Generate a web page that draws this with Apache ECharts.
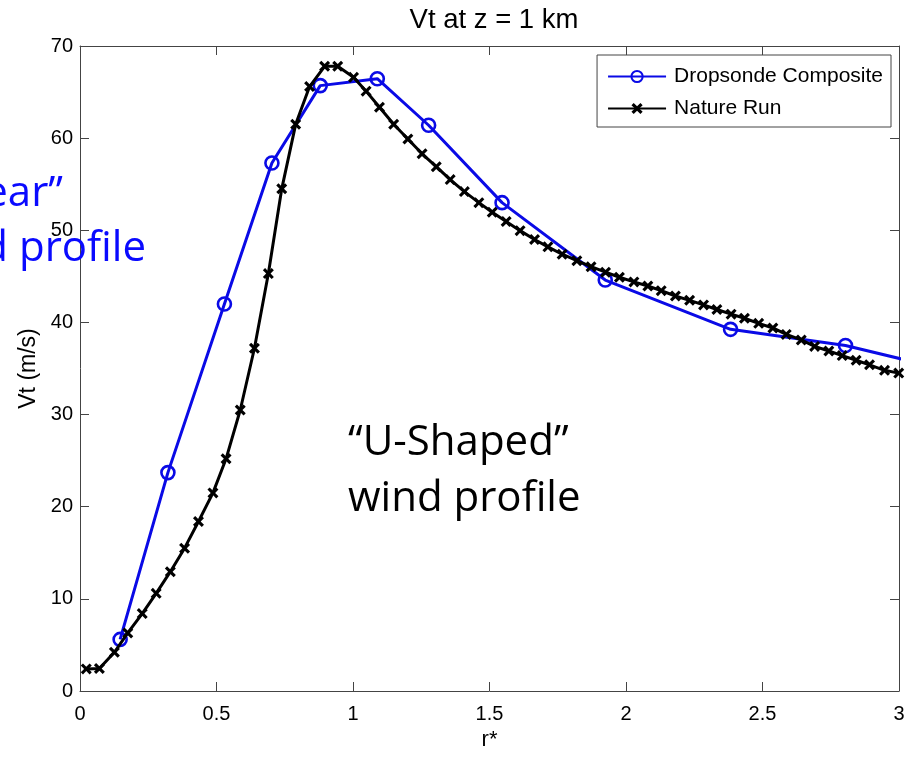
<!DOCTYPE html>
<html>
<head>
<meta charset="utf-8">
<script src="https://cdn.jsdelivr.net/npm/echarts@6/dist/echarts.min.js"></script>
<style>
  html, body { margin: 0; padding: 0; background: #ffffff; }
  #chart { width: 913px; height: 764px; }
</style>
</head>
<body>
<div id="chart"></div>
<script>
// Tangential wind Vt (m/s) at z = 1 km against normalised radius r*
const dropR  = [0.147, 0.322, 0.529, 0.703, 0.880, 1.089, 1.277, 1.546, 1.924, 2.383, 2.804, 3.25];
const dropVt = [5.6,   23.7,  42.0,  57.3,  65.7,  66.45, 61.4,  53.0,  44.6,  39.25, 37.5,  34.3];

const natureR = [
  0.023, 0.071, 0.126, 0.175, 0.228, 0.279, 0.331, 0.383, 0.434, 0.487,
  0.535, 0.587, 0.639, 0.690, 0.739, 0.790, 0.841, 0.896, 0.944, 1.002,
  1.048, 1.097, 1.149, 1.201, 1.253, 1.305, 1.356, 1.408, 1.461, 1.510,
  1.561, 1.612, 1.665, 1.714, 1.766, 1.820, 1.872, 1.925, 1.976, 2.029,
  2.080, 2.129, 2.181, 2.233, 2.284, 2.333, 2.385, 2.434, 2.486, 2.538,
  2.587, 2.642, 2.691, 2.743, 2.792, 2.843, 2.892, 2.947, 2.999
];
const natureVt = [
  2.4,  2.45, 4.2,  6.3,  8.4,  10.6, 12.95, 15.5, 18.4, 21.5,
  25.2, 30.5, 37.2, 45.3, 54.5, 61.5, 65.6,  67.8, 67.8, 66.6,
  65.1, 63.35, 61.5, 59.9, 58.3, 56.9, 55.5, 54.2, 53.0, 51.95,
  50.95, 49.96, 49.0, 48.2, 47.4, 46.7, 46.05, 45.45, 44.9, 44.4,
  43.95, 43.45, 42.87, 42.4, 41.9, 41.4, 40.9, 40.45, 39.9, 39.4,
  38.7, 38.1, 37.4, 36.9, 36.4, 35.9, 35.4, 34.8, 34.5
];

const xTicks = [0, 0.5, 1, 1.5, 2, 2.5, 3];
const yTicks = [0, 10, 20, 30, 40, 50, 60, 70];

const seriesNames = ['Dropsonde Composite', 'Nature Run'];
const titleText = 'Vt at z = 1 km';
const xName = 'r*';
const yName = 'Vt (m/s)';

const pairs = (xs, ys) => xs.map((x, i) => [x, ys[i]]);

const axisColor = '#444444';
const blue = '#0a0ae6';
const mono = "'Liberation Sans', Arial, Helvetica, sans-serif";
const notes = "'Open Sans', 'Noto Sans', sans-serif";
// bold "x" marker outline
const crossPath = 'path://M0,2L2,0L5,3L8,0L10,2L7,5L10,8L8,10L5,7L2,10L0,8L3,5Z';

function boxAxis(kind, pos, ticks, withLabels) {
  return {
    type: 'value',
    position: pos,
    min: ticks[0],
    max: ticks[ticks.length - 1],
    interval: ticks[1] - ticks[0],
    axisLine: { show: true, onZero: false, lineStyle: { color: axisColor, width: 1 } },
    axisTick: { show: true, inside: true, length: 9, lineStyle: { color: axisColor, width: 1 } },
    splitLine: { show: false },
    axisLabel: withLabels ? {
      show: true,
      color: '#000',
      fontFamily: mono,
      fontSize: 20,
      margin: kind === 'x' ? 13 : 7,
      formatter: v => String(v)
    } : { show: false }
  };
}

const xBottom = Object.assign(boxAxis('x', 'bottom', xTicks, true), {
  name: xName, nameLocation: 'middle', nameGap: 38,
  nameTextStyle: { color: '#000', fontFamily: mono, fontSize: 22 }
});
const yLeft = Object.assign(boxAxis('y', 'left', yTicks, true), {
  name: yName, nameLocation: 'middle', nameGap: 37,
  nameTextStyle: { color: '#000', fontFamily: mono, fontSize: 23 }
});

const chart = echarts.init(document.getElementById('chart'), null, { renderer: 'canvas' });

chart.setOption({
  backgroundColor: '#ffffff',
  animation: false,
  title: {
    text: titleText,
    left: 489,
    textAlign: 'center',
    top: 1,
    textStyle: { color: '#000', fontFamily: mono, fontSize: 27.5, fontWeight: 'normal' }
  },
  grid: { left: 80, right: 14, top: 46, bottom: 73, containLabel: false },
  xAxis: [xBottom, boxAxis('x', 'top', xTicks, false)],
  yAxis: [yLeft, boxAxis('y', 'right', yTicks, false)],
  legend: {
    orient: 'vertical',
    right: 22,
    top: 55,
    padding: [11, 8, 8, 10],
    itemGap: 11,
    itemWidth: 58,
    itemHeight: 14,
    backgroundColor: '#ffffff',
    borderColor: axisColor,
    borderWidth: 1,
    borderRadius: 0,
    textStyle: { color: '#000', fontFamily: mono, fontSize: 21, padding: [0, 0, 0, 3] },
    data: seriesNames
  },
  series: [
    {
      name: seriesNames[0],
      type: 'line',
      xAxisIndex: 0,
      yAxisIndex: 0,
      data: pairs(dropR, dropVt),
      clip: true,
      symbol: 'circle',
      symbolSize: 13,
      showAllSymbol: true,
      lineStyle: { color: blue, width: 3 },
      itemStyle: { color: 'rgba(255,255,255,0)', borderColor: blue, borderWidth: 2.6 },
      z: 2
    },
    {
      name: seriesNames[1],
      type: 'line',
      xAxisIndex: 0,
      yAxisIndex: 0,
      data: pairs(natureR, natureVt),
      clip: true,
      symbol: crossPath,
      symbolSize: 11,
      showAllSymbol: true,
      lineStyle: { color: '#000000', width: 3 },
      itemStyle: { color: '#000000' },
      z: 3
    }
  ],
  graphic: [
    { type: 'text', x: 63, y: 194, z: 100,
      style: { text: '“Linear”', fill: '#0a0aff', font: '42px ' + notes, align: 'right', verticalAlign: 'middle' } },
    { type: 'text', x: 146, y: 249, z: 100,
      style: { text: 'wind profile', fill: '#0a0aff', font: '42px ' + notes, align: 'right', verticalAlign: 'middle' } },
    { type: 'text', x: 348, y: 443, z: 100,
      style: { text: '“U-Shaped”', fill: '#000000', font: '42px ' + notes, align: 'left', verticalAlign: 'middle' } },
    { type: 'text', x: 348, y: 499, z: 100,
      style: { text: 'wind profile', fill: '#000000', font: '42px ' + notes, align: 'left', verticalAlign: 'middle' } }
  ]
});
</script>
</body>
</html>
